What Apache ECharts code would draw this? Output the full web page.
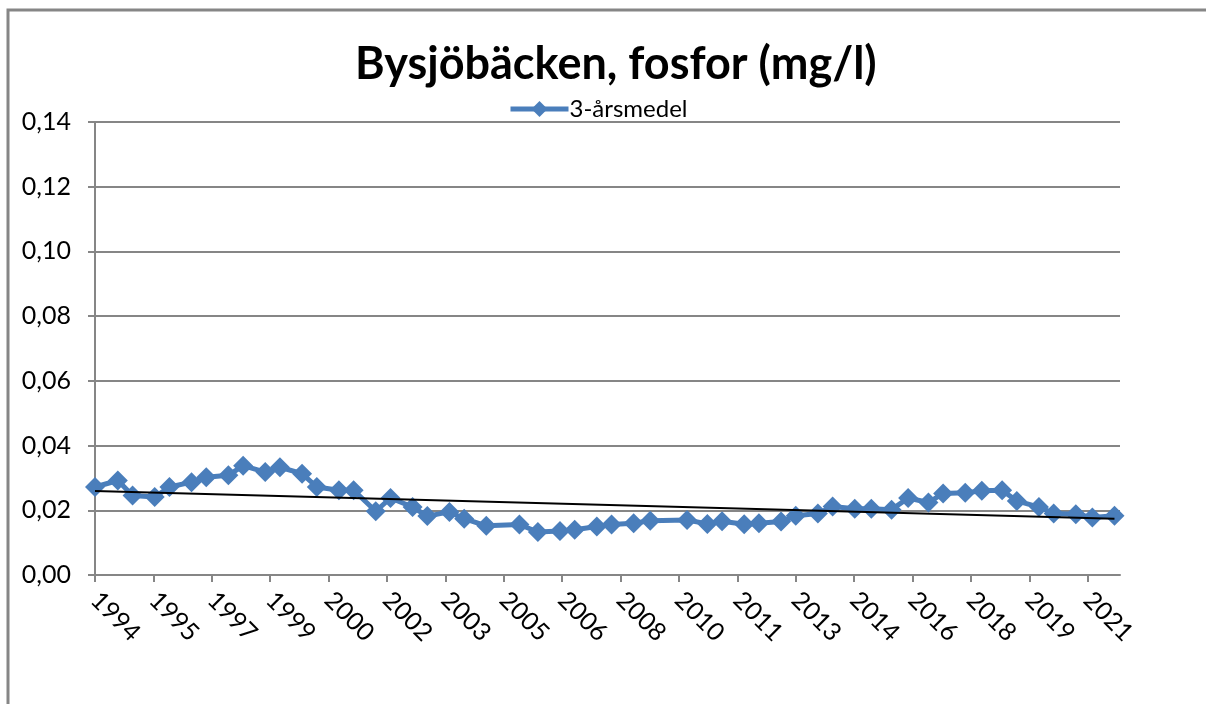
<!doctype html>
<html lang="sv">
<head>
    <meta charset="UTF-8">
    <title>Bysjöbäcken, fosfor</title>
    <script src="https://cdn.jsdelivr.net/npm/echarts@6/dist/echarts.min.js"></script>
    <style>
        html, body { margin: 0; padding: 0; background: #fff; }
        #container { width: 1206px; height: 704px; }
    </style>
</head>
<body>
<div id="container"></div>
<script type="text/javascript">

    // provtagningstidpunkt (decimalår) och 3-årsmedel fosfor (mg/l)
    var years = [1994.28, 1994.9, 1995.3, 1995.9, 1996.3, 1996.9, 1997.3, 1997.9, 1998.3, 1998.9,
        1999.3, 1999.9, 2000.3, 2000.9, 2001.3, 2001.9, 2002.3, 2002.9, 2003.3, 2003.9,
        2004.3, 2004.9, 2005.8, 2006.3, 2006.9, 2007.3, 2007.9, 2008.3, 2008.9, 2009.35,
        2010.35, 2010.9, 2011.3, 2011.9, 2012.3, 2012.9, 2013.3, 2013.9, 2014.3, 2014.9,
        2015.35, 2015.9, 2016.35, 2016.9, 2017.3, 2017.9, 2018.35, 2018.9, 2019.3, 2019.9,
        2020.3, 2020.9, 2021.35, 2021.95];
    var medel = [0.0272, 0.0292, 0.0246, 0.0241, 0.0272, 0.0287, 0.0302, 0.0308, 0.0338, 0.0318,
        0.0333, 0.0313, 0.0272, 0.0262, 0.0262, 0.0197, 0.0238, 0.0210, 0.0182, 0.0195,
        0.0174, 0.0152, 0.0156, 0.0133, 0.0136, 0.0140, 0.0150, 0.0156, 0.0160, 0.0168,
        0.0170, 0.0158, 0.0166, 0.0157, 0.0160, 0.0165, 0.0183, 0.0190, 0.0212, 0.0205,
        0.0205, 0.0202, 0.0238, 0.0224, 0.0252, 0.0254, 0.0260, 0.0262, 0.0229, 0.0210,
        0.0190, 0.0188, 0.0178, 0.0183];

    // x-axelns etiketter (datumaxel, ett steg ca 579 dagar)
    var tickLabels = ['1994', '1995', '1997', '1999', '2000', '2002', '2003', '2005', '2006',
        '2008', '2010', '2011', '2013', '2014', '2016', '2018', '2019', '2021'];
    var axisStart = 1994.28;
    var axisEnd = 2022.1;
    var tickStep = 1.585;

    var tickValues = tickLabels.map(function (l, i) { return axisStart + i * tickStep; });

    // linjär trendlinje (minsta kvadrat) som i Excel
    function trend(xs, ys) {
        var n = xs.length, sx = 0, sy = 0, sxx = 0, sxy = 0;
        for (var i = 0; i < n; i++) {
            sx += xs[i]; sy += ys[i]; sxx += xs[i] * xs[i]; sxy += xs[i] * ys[i];
        }
        var k = (n * sxy - sx * sy) / (n * sxx - sx * sx);
        var m = (sy - k * sx) / n;
        var x0 = xs[0], x1 = xs[n - 1];
        return [[x0, k * x0 + m], [x1, k * x1 + m]];
    }

    var seriesData = years.map(function (y, i) { return [y, medel[i]]; });

    var dom = document.getElementById("container");
    var myChart = echarts.init(dom);
    var font = 'Lato, "Open Sans", sans-serif';

    var option = {
        backgroundColor: '#fff',
        animation: false,
        textStyle: { fontFamily: font },
        title: {
            text: 'Bysjöbäcken, fosfor (mg/l)',
            left: 350,
            top: 37,
            textStyle: { fontSize: 45, fontWeight: 'bold', color: '#000', fontFamily: font }
        },
        legend: {
            data: ['3-årsmedel'],
            left: 503,
            top: 92,
            itemWidth: 58,
            itemHeight: 20,
            itemGap: 4,
            lineStyle: { width: 5 },
            textStyle: { fontSize: 24, color: '#000', fontFamily: font, padding: [0, 0, 0, -4] }
        },
        grid: {
            left: 95,
            right: 86,
            top: 122,
            bottom: 129,
            outerBoundsMode: 'none'
        },
        xAxis: {
            type: 'value',
            min: axisStart,
            max: axisEnd,
            splitLine: { show: false },
            axisLine: { onZero: false, lineStyle: { color: '#868686', width: 2 } },
            axisTick: {
                customValues: tickValues,
                length: 7,
                lineStyle: { color: '#868686', width: 2 }
            },
            axisLabel: {
                customValues: tickValues,
                rotate: -45,
                margin: 21,
                fontSize: 25,
                color: '#000',
                fontFamily: font,
                formatter: function (v) {
                    var best = 0;
                    for (var i = 1; i < tickValues.length; i++) {
                        if (Math.abs(tickValues[i] - v) < Math.abs(tickValues[best] - v)) best = i;
                    }
                    return tickLabels[best];
                }
            }
        },
        yAxis: {
            type: 'value',
            min: 0,
            max: 0.14,
            interval: 0.02,
            axisLine: { show: true, lineStyle: { color: '#868686', width: 2 } },
            axisTick: { show: true, length: 7, lineStyle: { color: '#868686', width: 2 } },
            splitLine: { lineStyle: { color: '#868686', width: 2 } },
            axisLabel: {
                margin: 24,
                fontSize: 25,
                color: '#000',
                fontFamily: font,
                formatter: function (v) { return v.toFixed(2).replace('.', ','); }
            }
        },
        series: [{
            name: '3-årsmedel',
            type: 'line',
            data: seriesData,
            symbol: 'diamond',
            symbolSize: 20,
            itemStyle: { color: '#4a7ebb' },
            lineStyle: { color: '#4a7ebb', width: 5 },
            z: 2
        }, {
            name: 'Linjär',
            type: 'line',
            data: trend(years, medel),
            symbol: 'none',
            lineStyle: { color: '#000', width: 2 },
            z: 3
        }],
        graphic: [{
            type: 'polyline',
            shape: { points: [[8, 704], [8, 10], [1206, 10]] },
            style: { stroke: '#868686', lineWidth: 3, fill: null }
        }]
    };

    myChart.setOption(option, true);

</script>
</body>
</html>
